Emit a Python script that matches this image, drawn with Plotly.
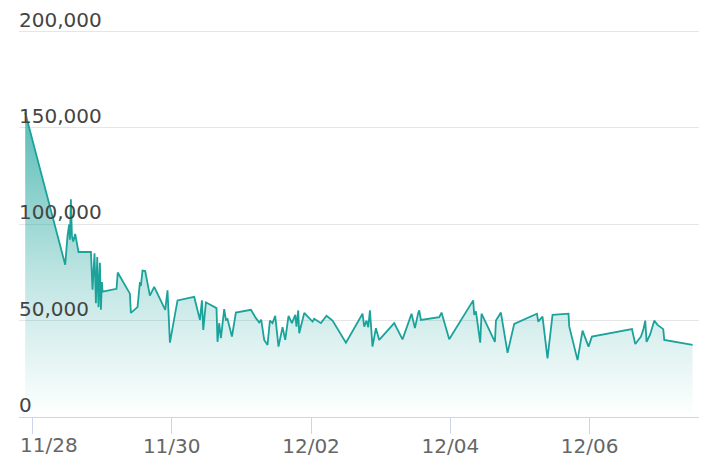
import plotly.graph_objects as go

# Series (timestamp, value)
times = [
    "2023-11-27 21:31", "2023-11-28 11:18", "2023-11-28 12:06", "2023-11-28 12:41",
    "2023-11-28 12:55", "2023-11-28 13:16", "2023-11-28 13:37", "2023-11-28 14:04",
    "2023-11-28 14:45", "2023-11-28 15:12", "2023-11-28 15:53", "2023-11-28 20:10",
    "2023-11-28 20:43", "2023-11-28 21:24", "2023-11-28 21:53", "2023-11-28 22:20",
    "2023-11-28 22:47", "2023-11-28 23:16", "2023-11-28 23:36", "2023-11-28 23:57",
    "2023-11-29 00:10", "2023-11-29 04:59", "2023-11-29 05:24", "2023-11-29 09:36",
    "2023-11-29 09:56", "2023-11-29 12:13", "2023-11-29 13:03", "2023-11-29 13:23",
    "2023-11-29 13:56", "2023-11-29 14:52", "2023-11-29 16:29", "2023-11-29 17:58",
    "2023-11-29 20:17", "2023-11-29 21:46", "2023-11-29 22:33", "2023-11-29 23:23",
    "2023-11-30 02:00", "2023-11-30 07:45", "2023-11-30 09:43", "2023-11-30 10:25",
    "2023-11-30 10:52", "2023-11-30 11:47", "2023-11-30 15:26", "2023-11-30 15:47",
    "2023-11-30 16:22", "2023-11-30 16:57", "2023-11-30 18:05", "2023-11-30 18:41",
    "2023-11-30 19:14", "2023-11-30 20:45", "2023-11-30 22:07", "2023-12-01 03:17",
    "2023-12-01 05:01", "2023-12-01 06:09", "2023-12-01 06:50", "2023-12-01 07:52",
    "2023-12-01 09:01", "2023-12-01 09:50", "2023-12-01 10:44", "2023-12-01 11:40",
    "2023-12-01 12:48", "2023-12-01 14:11", "2023-12-01 15:07", "2023-12-01 16:15",
    "2023-12-01 17:25", "2023-12-01 18:34", "2023-12-01 19:00", "2023-12-01 19:35",
    "2023-12-01 19:56", "2023-12-01 21:40", "2023-12-02 00:31", "2023-12-02 01:06",
    "2023-12-02 03:25", "2023-12-02 05:20", "2023-12-02 07:25", "2023-12-02 12:02",
    "2023-12-02 17:45", "2023-12-02 18:20", "2023-12-02 19:08", "2023-12-02 19:43",
    "2023-12-02 20:18", "2023-12-02 21:11", "2023-12-02 22:22", "2023-12-02 23:30",
    "2023-12-03 04:40", "2023-12-03 07:32", "2023-12-03 10:38", "2023-12-03 11:48",
    "2023-12-03 12:56", "2023-12-03 13:17", "2023-12-03 13:52", "2023-12-03 20:11",
    "2023-12-03 20:58", "2023-12-03 23:37", "2023-12-04 07:53", "2023-12-04 08:14",
    "2023-12-04 08:49", "2023-12-04 10:18", "2023-12-04 10:45", "2023-12-04 15:22",
    "2023-12-04 15:43", "2023-12-04 17:26", "2023-12-04 19:43", "2023-12-04 22:01",
    "2023-12-05 05:50", "2023-12-05 06:17", "2023-12-05 07:46", "2023-12-05 09:29",
    "2023-12-05 11:13", "2023-12-05 16:44", "2023-12-05 16:58", "2023-12-05 19:50",
    "2023-12-05 21:33", "2023-12-05 23:37", "2023-12-06 00:47", "2023-12-06 14:35",
    "2023-12-06 15:43", "2023-12-06 17:41", "2023-12-06 18:28", "2023-12-06 19:10",
    "2023-12-06 19:37", "2023-12-06 20:47", "2023-12-06 22:16", "2023-12-06 23:24",
    "2023-12-07 01:22", "2023-12-07 01:43", "2023-12-07 11:28",
]
values = [
    158000, 79000, 94000, 100000,
    92000, 113000, 94000, 91000,
    95000, 91000, 85600, 85600,
    66000, 85000, 59000, 83000,
    57000, 80000, 55600, 70000,
    65000, 66500, 75000, 64000,
    54000, 57000, 70000, 68000,
    76000, 75700, 63000, 67500,
    60000, 55600, 65700, 38600,
    60500, 62300, 50400, 60500,
    45200, 59500, 56500, 39000,
    48700, 40900, 56000, 50400,
    50800, 41700, 54200, 55600,
    51300, 49000, 50500, 40000,
    37400, 50000, 48700, 52500,
    36500, 46600, 40000, 52500,
    48700, 53000, 46900, 55300,
    43500, 54000, 49500, 51000,
    48700, 52500, 50000, 38600,
    53600, 46900, 50000, 46600,
    55300, 36500, 46100, 40000,
    48700, 40300, 53600, 46100,
    54000, 55300, 50400, 51800,
    54200, 40300, 60500, 53000,
    54800, 38600, 53600, 39000,
    50000, 54200, 33300, 48300,
    53600, 49500, 52100, 30400,
    53000, 53600, 47000, 29500,
    44800, 36500, 41700, 45600,
    37900, 41700, 45200, 50000,
    39000, 42600, 50000, 47800,
    45600, 40000, 37400,
]

# axis ticks; the first date label is pushed inside the chart like the reference does
tick_dates = ["2023-11-28", "2023-11-30", "2023-12-02", "2023-12-04", "2023-12-06"]
tick_labels = ["11/28", "11/30", "12/02", "12/04", "12/06"]
y_ticks = [0, 50000, 100000, 150000, 200000]

teal = "#1ba39b"

fig = go.Figure()
fig.add_scatter(
    x=times, y=values, mode="lines",
    line=dict(color=teal, width=1.8),
    fill="tozeroy",
    fillgradient=dict(
        type="vertical", start=0, stop=200000,
        colorscale=[[0, "rgba(27,163,155,0.0)"], [0.35, "rgba(27,163,155,0.27)"],
                    [1, "rgba(27,163,155,0.95)"]],
    ),
    hoverinfo="x+y", showlegend=False,
)

# first tick label kept as an annotation so it can sit flush with the plot edge
fig.add_annotation(
    text=tick_labels[0], xref="paper", x=0, xanchor="left", xshift=-1,
    yref="paper", y=0, yanchor="middle", yshift=-28,
    showarrow=False, font=dict(family="DejaVu Sans", size=20, color="#666666"),
)

fig.update_layout(
    width=720, height=476,
    margin=dict(l=19, r=21, t=30, b=59),
    paper_bgcolor="white", plot_bgcolor="white",
    font=dict(family="DejaVu Sans", size=20, color="#666666"),
    xaxis=dict(
        type="date",
        range=["2023-11-27 19:23", "2023-12-07 13:41"],
        tickmode="array", tickvals=tick_dates, ticktext=[""] + tick_labels[1:],
        showgrid=False, showline=True, linecolor="#ccd6eb", linewidth=1,
        ticks="outside", ticklen=16, tickcolor="#ccd6eb", tickwidth=1,
        ticklabelstandoff=-5,
        zeroline=False, automargin=False, ticklabeloverflow="allow",
    ),
    yaxis=dict(
        range=[0, 200800], tickmode="array", tickvals=y_ticks, tickformat=",",
        ticklabelposition="inside top", ticklabeloverflow="allow",
        ticklabelstandoff=-3, ticklabelshift=2,
        showgrid=True, gridcolor="#e6e6e6", gridwidth=1,
        zeroline=False, showline=False, ticks="", automargin=False,
    ),
)

fig.write_html("out.html", config={"displayModeBar": False},
               post_script="document.body.style.margin='0';")
